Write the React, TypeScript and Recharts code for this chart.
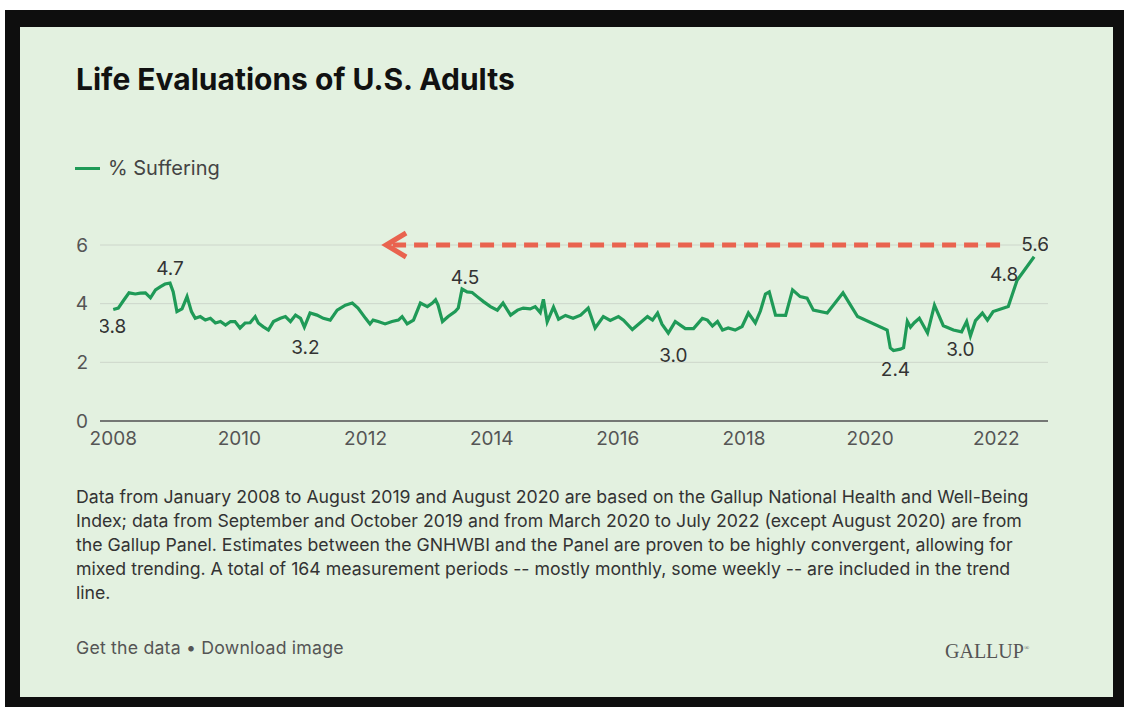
import { LineChart, Line, XAxis, YAxis, CartesianGrid, ReferenceLine, ReferenceDot } from "recharts";

const periods = [
  2008.0, 2008.08, 2008.16, 2008.25, 2008.35, 2008.43, 2008.51, 2008.59, 2008.67, 2008.75, 2008.82, 2008.9, 2008.95,
  2009.01, 2009.09, 2009.17, 2009.24, 2009.3, 2009.38, 2009.46, 2009.54, 2009.62, 2009.7, 2009.78, 2009.86, 2009.93,
  2010.01, 2010.09, 2010.17, 2010.25, 2010.3, 2010.38, 2010.46, 2010.54, 2010.65, 2010.73, 2010.81, 2010.89, 2010.97,
  2011.03, 2011.12, 2011.23, 2011.33, 2011.44, 2011.55, 2011.68, 2011.79, 2011.88,
  2012.0, 2012.07, 2012.12, 2012.2, 2012.31, 2012.42, 2012.52, 2012.58, 2012.66, 2012.76, 2012.87, 2012.98,
  2013.06, 2013.11, 2013.15, 2013.22, 2013.31, 2013.42, 2013.47, 2013.53, 2013.61, 2013.69, 2013.77, 2013.87, 2013.98,
  2014.09, 2014.18, 2014.3, 2014.41, 2014.5, 2014.61, 2014.69, 2014.77, 2014.82, 2014.88, 2014.98,
  2015.06, 2015.17, 2015.29, 2015.41, 2015.53, 2015.64, 2015.77, 2015.88,
  2016.01, 2016.09, 2016.23, 2016.36, 2016.47, 2016.55, 2016.63, 2016.7, 2016.8, 2016.91, 2016.99,
  2017.07, 2017.2, 2017.34, 2017.42, 2017.5, 2017.58, 2017.66, 2017.75, 2017.86, 2017.97,
  2018.07, 2018.18, 2018.26, 2018.34, 2018.4, 2018.5, 2018.66, 2018.77, 2018.89,
  2019.0, 2019.1, 2019.32, 2019.57, 2019.8,
  2020.27, 2020.32, 2020.37, 2020.48, 2020.53, 2020.59, 2020.64, 2020.7, 2020.78, 2020.91,
  2021.02, 2021.16, 2021.32, 2021.45, 2021.53, 2021.59, 2021.67, 2021.78, 2021.86, 2021.95,
  2022.19, 2022.33, 2022.6,
];

const suffering = [
  3.8, 3.85, 4.1, 4.37, 4.33, 4.36, 4.37, 4.2, 4.47, 4.58, 4.67, 4.7, 4.41,
  3.73, 3.82, 4.24, 3.73, 3.5, 3.56, 3.44, 3.5, 3.34, 3.39, 3.27, 3.39, 3.39,
  3.17, 3.34, 3.35, 3.56, 3.34, 3.21, 3.1, 3.39, 3.5, 3.56, 3.39, 3.61, 3.5,
  3.2, 3.68, 3.61, 3.5, 3.44, 3.78, 3.95, 4.02, 3.85,
  3.5, 3.31, 3.44, 3.39, 3.31, 3.39, 3.44, 3.56, 3.31, 3.44, 4.02, 3.9,
  4.02, 4.13, 3.95, 3.39, 3.56, 3.73, 3.85, 4.5, 4.4, 4.38, 4.24, 4.07, 3.9,
  3.78, 4.02, 3.61, 3.78, 3.85, 3.82, 3.9, 3.7, 4.15, 3.38, 3.88,
  3.47, 3.6, 3.5, 3.61, 3.85, 3.17, 3.56, 3.43,
  3.56, 3.44, 3.12, 3.36, 3.56, 3.44, 3.68, 3.3, 3.0, 3.39, 3.27,
  3.15, 3.15, 3.5, 3.44, 3.24, 3.39, 3.1, 3.17, 3.1, 3.22,
  3.68, 3.34, 3.75, 4.33, 4.4, 3.61, 3.6, 4.47, 4.24,
  4.19, 3.78, 3.68, 4.37, 3.56,
  3.1, 2.49, 2.4, 2.45, 2.5, 3.4, 3.2, 3.35, 3.5, 3.0,
  3.95, 3.25, 3.1, 3.04, 3.39, 2.9, 3.42, 3.68, 3.44, 3.73,
  3.9, 4.8, 5.6,
];

const yearTicks = [2008, 2010, 2012, 2014, 2016, 2018, 2020, 2022];
const valueTicks = [0, 2, 4, 6];

const calloutPeriods = [2008.0, 2008.9, 2011.03, 2013.53, 2016.8, 2020.37, 2021.59, 2022.33, 2022.6];
const calloutTexts = ["3.8", "4.7", "3.2", "4.5", "3.0", "2.4", "3.0", "4.8", "5.6"];

const arrowFrom = 2022.06;
const arrowTo = 2012.31;
const arrowLevel = 6;

const footnoteLines = [
  "Data from January 2008 to August 2019 and August 2020 are based on the Gallup National Health and Well-Being",
  "Index; data from September and October 2019 and from March 2020 to July 2022 (except August 2020) are from",
  "the Gallup Panel. Estimates between the GNHWBI and the Panel are proven to be highly convergent, allowing for",
  "mixed trending. A total of 164 measurement periods -- mostly monthly, some weekly -- are included in the trend",
  "line.",
];

const data = periods.map((t, i) => ({ t, v: suffering[i] }));

// label nudges (px) for each callout, same order as calloutTexts
const calloutOffsets = [
  [-1, 17], [0, -15], [1, 20], [3, -12], [5, 22], [2, 19], [-10, 14], [-13, -6], [1, -12],
];

const FONT = "Inter, 'Noto Sans', sans-serif";
const GREEN = "#1f9a57";
const RED = "#e9634f";

function Callout(props: any) {
  const { cx, cy, payload, index } = props;
  const k = calloutPeriods.indexOf(payload?.t);
  if (k < 0 || cx == null) return <g key={`d${index}`} />;
  const [dx, dy] = calloutOffsets[k];
  return (
    <text key={`d${index}`} x={cx + dx} y={cy + dy} textAnchor="middle" dominantBaseline="central"
      fontFamily={FONT} fontSize={19} fill="#333">
      {calloutTexts[k]}
    </text>
  );
}

function ArrowHead(props: any) {
  const { cx, cy } = props;
  if (cx == null) return <g />;
  return <path d={`M${cx + 21},${cy - 12} L${cx + 1},${cy} L${cx + 21},${cy + 12}`} fill="none" stroke={RED} strokeWidth={5} />;
}

export default function App() {
  return (
    <div style={{ position: "absolute", left: 0, top: 0, width: 1124, height: 707, background: "#fff", overflow: "hidden" }}>
      <div style={{ position: "absolute", left: 5, top: 10, width: 1119, height: 697, background: "#0e0e0e" }} />
      <div style={{ position: "absolute", left: 20, top: 27, width: 1093, height: 670, background: "#e3f1e0" }} />
      <div style={{ position: "absolute", left: 76, top: 64, fontFamily: FONT, fontWeight: 700, fontSize: 30, lineHeight: 1, color: "#111" }}>
        Life Evaluations of U.S. Adults
      </div>
      <div style={{ position: "absolute", left: 75, top: 156, display: "flex", alignItems: "center", fontFamily: FONT, fontSize: 20, lineHeight: "24px", color: "#444" }}>
        <span style={{ display: "inline-block", width: 25, height: 3, background: GREEN, marginRight: 8 }} />
        % Suffering
      </div>

      <div style={{ position: "absolute", left: 0, top: 0 }}>
        <LineChart width={1124} height={707} data={data} margin={{ top: 245, right: 76, bottom: 256, left: 60 }}>
          <CartesianGrid vertical={false} stroke="#cdd6cb" strokeWidth={1} />
          <XAxis dataKey="t" type="number" domain={[2007.79, 2022.82]} ticks={yearTicks} allowDataOverflow
            height={30} tickSize={0} tickMargin={11} axisLine={{ stroke: "#555", strokeWidth: 1.5 }}
            tick={{ fill: "#555", fontSize: 19, fontFamily: FONT }} />
          <YAxis domain={[0, 6]} ticks={valueTicks} width={40} tickSize={0} tickMargin={12} axisLine={false}
            tick={{ fill: "#555", fontSize: 19, fontFamily: FONT }} />
          <ReferenceLine segment={[{ x: arrowFrom, y: arrowLevel }, { x: arrowTo + 0.12, y: arrowLevel }]}
            stroke={RED} strokeWidth={5} strokeDasharray="14 8" />
          <ReferenceDot x={arrowTo} y={arrowLevel} shape={<ArrowHead />} />
          <Line type="linear" dataKey="v" name="% Suffering" stroke={GREEN} strokeWidth={3.2} dot={(p: any) => <Callout {...p} />}
            activeDot={false} isAnimationActive={false} />
        </LineChart>
      </div>

      <div style={{ position: "absolute", left: 76, top: 485, fontFamily: FONT, fontSize: 17.7, lineHeight: "24px", color: "#333", whiteSpace: "nowrap" }}>
        {footnoteLines.map((l) => <div key={l}>{l}</div>)}
      </div>
      <div style={{ position: "absolute", left: 76, top: 637, fontFamily: FONT, fontSize: 17.7, lineHeight: "22px", color: "#555", letterSpacing: 0.2 }}>
        Get the data • Download image
      </div>
      <div style={{ position: "absolute", left: 945, top: 636, fontFamily: "'Liberation Serif', serif", fontSize: 20, lineHeight: "24px", color: "#555" }}>
        GALLUP<sup style={{ fontSize: 7 }}>®</sup>
      </div>
    </div>
  );
}
